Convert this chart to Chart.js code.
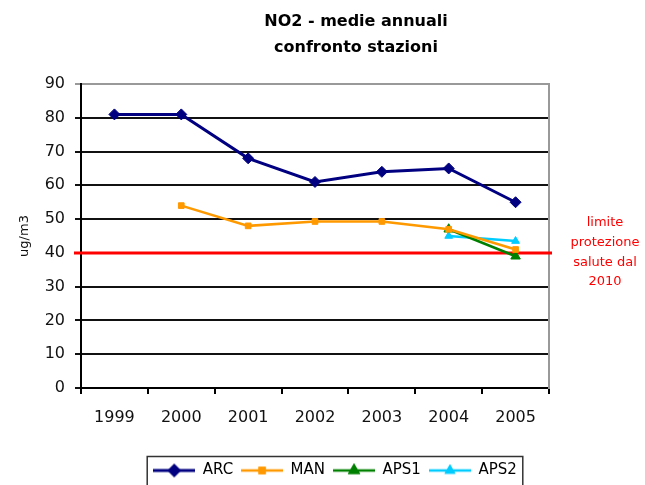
<!DOCTYPE html>
<html>
<head>
<meta charset="utf-8">
<script src="https://cdn.jsdelivr.net/npm/chart.js@4/dist/chart.umd.min.js"></script>
<style>
  html, body { margin: 0; padding: 0; background: #fff; }
  #wrap { width: 645px; height: 485px; position: relative; }
</style>
</head>
<body>
<div id="wrap"><canvas id="c"></canvas></div>
<script>
// ---- data ----
const categories = ['1999', '2000', '2001', '2002', '2003', '2004', '2005'];
const arcValues  = [81, 81, 68, 61, 64, 65, 55];
const manValues  = [null, 54, 48, 49.3, 49.3, 47, 41];
const aps1Values = [null, null, null, null, null, 47, 39];
const aps2Values = [null, null, null, null, null, 45, 43.5];
const seriesNames = ['ARC', 'MAN', 'APS1', 'APS2'];
const yTickValues = [0, 10, 20, 30, 40, 50, 60, 70, 80, 90];
const limitValue = 40;
const titleLines = ['NO2 - medie annuali', 'confronto stazioni'];
const limitLabelLines = ['limite', 'protezione', 'salute dal', '2010'];
const yAxisTitle = 'ug/m3';

// ---- styles ----
const FONT = '"DejaVu Sans", "Liberation Sans", Arial, sans-serif';
const styles = [
  { color: '#000080', pointStyle: 'rectRot', radius: 5.5, width: 3 },
  { color: '#FF9900', pointStyle: 'rect', radius: 4, width: 2.5 },
  { color: '#008000', pointStyle: 'triangle', radius: 5.5, width: 2.5 },
  { color: '#00CCFF', pointStyle: 'triangle', radius: 4.5, width: 2.5 }
];

function makeIcon(st) {
  const cv = document.createElement('canvas');
  cv.width = 42; cv.height = 16;
  const ctx = cv.getContext('2d');
  ctx.strokeStyle = st.color;
  ctx.lineWidth = st.width;
  ctx.beginPath(); ctx.moveTo(0, 8); ctx.lineTo(42, 8); ctx.stroke();
  Chart.helpers.drawPoint(ctx, { pointStyle: st.pointStyle, radius: st.radius * 0.85, rotation: 0, borderWidth: 1 }, 21, 8);
  ctx.fillStyle = st.color;
  ctx.fill();
  ctx.stroke();
  return cv;
}
const icons = styles.map(makeIcon);

const allValues = [arcValues, manValues, aps1Values, aps2Values];
const datasets = allValues.map((vals, i) => ({
  label: seriesNames[i],
  data: vals,
  borderColor: styles[i].color,
  backgroundColor: styles[i].color,
  borderWidth: styles[i].width,
  pointStyle: styles[i].pointStyle,
  pointRadius: styles[i].radius,
  pointHoverRadius: styles[i].radius,
  pointBorderWidth: 1,
  tension: 0,
  spanGaps: false,
  yAxisID: 'y'
}));

const decorPlugin = {
  id: 'decor',
  beforeDatasetsDraw(chart) {
    const { ctx, chartArea } = chart;
    const y = chart.scales.y.getPixelForValue(limitValue);
    ctx.save();
    ctx.strokeStyle = '#FF0000';
    ctx.lineWidth = 3;
    ctx.beginPath();
    ctx.moveTo(chartArea.left - 7, y);
    ctx.lineTo(chartArea.right + 3, y);
    ctx.stroke();
    ctx.restore();
  },
  afterDraw(chart) {
    const { ctx, chartArea } = chart;
    ctx.save();
    // title
    ctx.fillStyle = '#000';
    ctx.font = 'bold 16px ' + FONT;
    ctx.textAlign = 'center';
    ctx.textBaseline = 'middle';
    ctx.fillText(titleLines[0], 356, 22);
    ctx.fillText(titleLines[1], 356, 48);
    // limit label
    ctx.fillStyle = '#FF0000';
    ctx.font = '13px ' + FONT;
    const ys = [223, 243, 263, 282];
    limitLabelLines.forEach((t, i) => ctx.fillText(t, 605, ys[i]));
    // legend frame
    const hb = chart.legend.legendHitBoxes;
    if (hb && hb.length) {
      const l = hb[0].left - 6;
      const last = hb[hb.length - 1];
      const r = last.left + last.width + 6;
      const t = hb[0].top - 6.5;
      ctx.strokeStyle = '#333';
      ctx.lineWidth = 1.5;
      ctx.strokeRect(l, t, r - l, 40);
    }
    ctx.restore();
  }
};

new Chart(document.getElementById('c'), {
  type: 'line',
  data: { labels: categories, datasets },
  plugins: [decorPlugin],
  options: {
    responsive: true,
    maintainAspectRatio: false,
    animation: false,
    layout: { padding: { left: 25, right: 0, top: 84, bottom: -3 } },
    plugins: {
      title: { display: false },
      tooltip: { enabled: false },
      legend: {
        display: true,
        position: 'bottom',
        labels: {
          usePointStyle: true,
          pointStyleWidth: 42,
          boxHeight: 15,
          padding: 8,
          color: '#000',
          font: { family: FONT, size: 15 },
          generateLabels(chart) {
            const items = Chart.defaults.plugins.legend.labels.generateLabels(chart);
            items.forEach((it, i) => { it.pointStyle = icons[i]; it.fontColor = '#000'; });
            return items;
          }
        }
      }
    },
    scales: {
      x: {
        type: 'category',
        offset: true,
        grid: { offset: true, drawOnChartArea: false, drawTicks: true, tickLength: 6, color: '#000', lineWidth: 2 },
        border: { display: true, color: '#000', width: 2 },
        ticks: { color: '#111', font: { family: FONT, size: 16 }, padding: 14, maxRotation: 0, autoSkip: false },
        afterFit(s) { s.height = 67; }
      },
      y: {
        position: 'left',
        min: 0, max: 90,
        afterBuildTicks(s) { s.ticks = yTickValues.map(v => ({ value: v })); },
        grid: {
          drawTicks: true, tickLength: 6,
          color: (c) => (c.tick && c.tick.value === 90 ? '#999' : '#111'),
          lineWidth: 2
        },
        border: { display: true, color: '#000', width: 2 },
        ticks: { color: '#111', font: { family: FONT, size: 16 }, padding: 10 },
        title: { display: true, text: yAxisTitle, color: '#111', font: { family: FONT, size: 13, lineHeight: 1 }, padding: { top: -7, bottom: 0 } },
        afterFit(s) { s.width = 56; }
      },
      y2: {
        position: 'right',
        min: 0, max: 90,
        grid: { drawOnChartArea: false, drawTicks: false },
        border: { display: true, color: '#999', width: 2 },
        ticks: { display: false },
        afterFit(s) { s.width = 96; }
      }
    }
  }
});
</script>
</body>
</html>
